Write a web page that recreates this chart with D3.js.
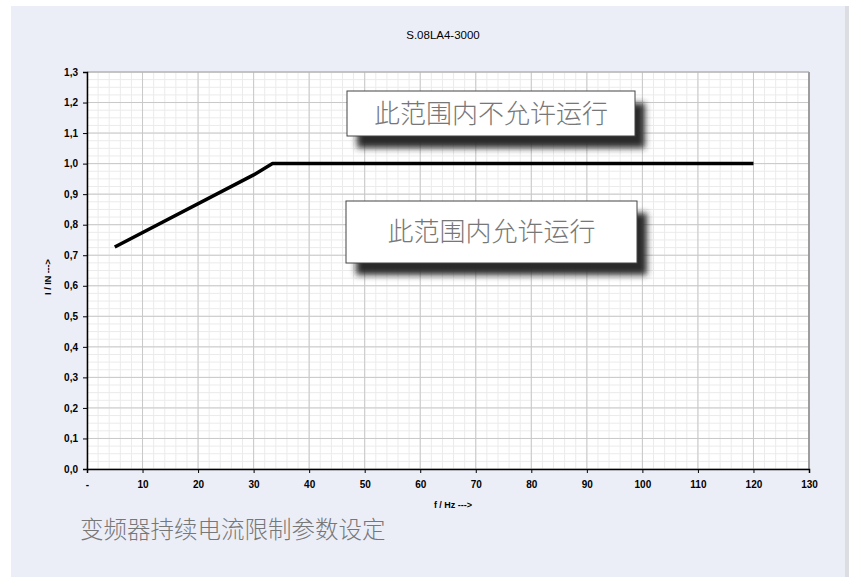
<!DOCTYPE html>
<html>
<head>
<meta charset="utf-8">
<script src="https://cdn.jsdelivr.net/npm/d3@7"></script>
<style>
  body { margin: 0; background: #fff; }
  svg { display: block; }
</style>
</head>
<body>
<div id="chart"></div>
<script>
// curve
const freq = [5, 30, 33.4, 120];
const ratio = [0.727, 0.963, 1.0, 1.0];

const xTicks = [0, 10, 20, 30, 40, 50, 60, 70, 80, 90, 100, 110, 120, 130];
const yTicks = [0, 0.1, 0.2, 0.3, 0.4, 0.5, 0.6, 0.7, 0.8, 0.9, 1.0, 1.1, 1.2, 1.3];

const title = "S.08LA4-3000";
const xLabel = "f / Hz --->";
const yLabel = "I / IN --->";
const boxTexts = ["此范围内不允许运行", "此范围内允许运行"];
const footer = "变频器持续电流限制参数设定";

const W = 851, H = 578;
const svg = d3.select("#chart").append("svg").attr("width", W).attr("height", H);

const defs = svg.append("defs");
const f = defs.append("filter").attr("id", "shadow")
  .attr("x", "-10%").attr("y", "-30%").attr("width", "130%").attr("height", "180%");
f.append("feGaussianBlur").attr("stdDeviation", 3);

// panel
svg.append("rect").attr("x", 845).attr("y", 6).attr("width", 4).attr("height", 571).attr("fill", "#dcdde3");
svg.append("rect").attr("x", 11).attr("y", 6).attr("width", 834).attr("height", 571).attr("fill", "#eceef7");

const x = d3.scaleLinear().domain([0, 130]).range([87, 809]);
const y = d3.scaleLinear().domain([0, 1.3]).range([469, 72]);

// plot area
svg.append("rect").attr("x", x(0)).attr("y", y(1.3))
  .attr("width", x(130) - x(0)).attr("height", y(0) - y(1.3)).attr("fill", "#fff");

const grid = svg.append("g");
// minor grid
grid.selectAll(".mx").data(d3.range(0, 131, 2)).enter().append("line")
  .attr("x1", d => x(d)).attr("x2", d => x(d)).attr("y1", y(0)).attr("y2", y(1.3))
  .attr("stroke", "#ebebeb").attr("stroke-width", 1);
grid.selectAll(".my").data(d3.range(0, 53).map(i => i * 0.025)).enter().append("line")
  .attr("y1", d => y(d)).attr("y2", d => y(d)).attr("x1", x(0)).attr("x2", x(130))
  .attr("stroke", "#ebebeb").attr("stroke-width", 1);
// major grid
grid.selectAll(".gx").data(xTicks).enter().append("line")
  .attr("x1", d => x(d)).attr("x2", d => x(d)).attr("y1", y(0)).attr("y2", y(1.3))
  .attr("stroke", "#c8c8c8").attr("stroke-width", 1);
grid.selectAll(".gy").data(yTicks).enter().append("line")
  .attr("y1", d => y(d)).attr("y2", d => y(d)).attr("x1", x(0)).attr("x2", x(130))
  .attr("stroke", "#c8c8c8").attr("stroke-width", 1);

// frame right/top
svg.append("line").attr("x1", x(130)).attr("x2", x(130)).attr("y1", y(1.3)).attr("y2", y(0))
  .attr("stroke", "#888").attr("stroke-width", 1.5);
svg.append("line").attr("x1", x(0)).attr("x2", x(130)).attr("y1", y(1.3)).attr("y2", y(1.3))
  .attr("stroke", "#aaa").attr("stroke-width", 1);

// axes
const xAxis = svg.append("g").attr("transform", `translate(0,${y(0)})`)
  .call(d3.axisBottom(x).tickValues(xTicks).tickSize(4).tickPadding(8)
    .tickFormat(d => d === 0 ? "-" : d));
const yAxis = svg.append("g").attr("transform", `translate(${x(0)},0)`)
  .call(d3.axisLeft(y).tickValues(yTicks).tickSize(4).tickPadding(5)
    .tickFormat(d => d3.format(".1f")(d).replace(".", ",")));
[xAxis, yAxis].forEach(a => {
  a.select(".domain").attr("stroke", "#000").attr("stroke-width", 1.5);
  a.selectAll(".tick line").attr("stroke", "#000");
  a.selectAll("text").attr("font-family", "Liberation Sans, Arial, sans-serif")
    .attr("font-size", 10).attr("font-weight", "bold").attr("fill", "#000");
});

// curve
svg.append("path")
  .datum(freq.map((d, i) => [d, ratio[i]]))
  .attr("d", d3.line().x(d => x(d[0])).y(d => y(d[1])))
  .attr("fill", "none").attr("stroke", "#000").attr("stroke-width", 3.5)
  .attr("stroke-linejoin", "round");

// text boxes with shadow
const boxes = [
  { t: boxTexts[0], x0: 347, y0: 91, w: 288, h: 45 },
  { t: boxTexts[1], x0: 346, y0: 201, w: 291, h: 62 }
];
boxes.forEach(b => {
  svg.append("rect").attr("x", b.x0 + 10).attr("y", b.y0 + 12).attr("width", b.w).attr("height", b.h)
    .attr("fill", "#2a2a2a").attr("filter", "url(#shadow)");
  svg.append("rect").attr("x", b.x0).attr("y", b.y0).attr("width", b.w).attr("height", b.h)
    .attr("fill", "#fff").attr("stroke", "#444").attr("stroke-width", 1);
  svg.append("text").attr("x", b.x0 + b.w / 2).attr("y", b.y0 + b.h / 2 + 9)
    .attr("text-anchor", "middle").attr("font-family", "Noto Sans CJK SC")
    .attr("font-weight", 300).attr("font-size", 26).attr("fill", "#777").text(b.t);
});

// titles
svg.append("text").attr("x", 443).attr("y", 39).attr("text-anchor", "middle")
  .attr("font-family", "Liberation Sans Narrow, Arial Narrow, Liberation Sans, sans-serif")
  .attr("font-size", 11.5).attr("fill", "#000").text(title);
svg.append("text").attr("x", 453).attr("y", 508).attr("text-anchor", "middle")
  .attr("font-family", "Liberation Sans, Arial, sans-serif").attr("font-weight", "bold")
  .attr("font-size", 9).attr("fill", "#000").text(xLabel);
svg.append("text").attr("transform", "translate(51,277) rotate(-90)").attr("text-anchor", "middle")
  .attr("font-family", "Liberation Sans, Arial, sans-serif").attr("font-weight", "bold")
  .attr("font-size", 9).attr("fill", "#000").text(yLabel);

svg.append("text").attr("x", 80).attr("y", 538)
  .attr("font-family", "Noto Sans CJK SC").attr("font-weight", 300)
  .attr("font-size", 23.5).attr("fill", "#777").text(footer);
</script>
</body>
</html>
